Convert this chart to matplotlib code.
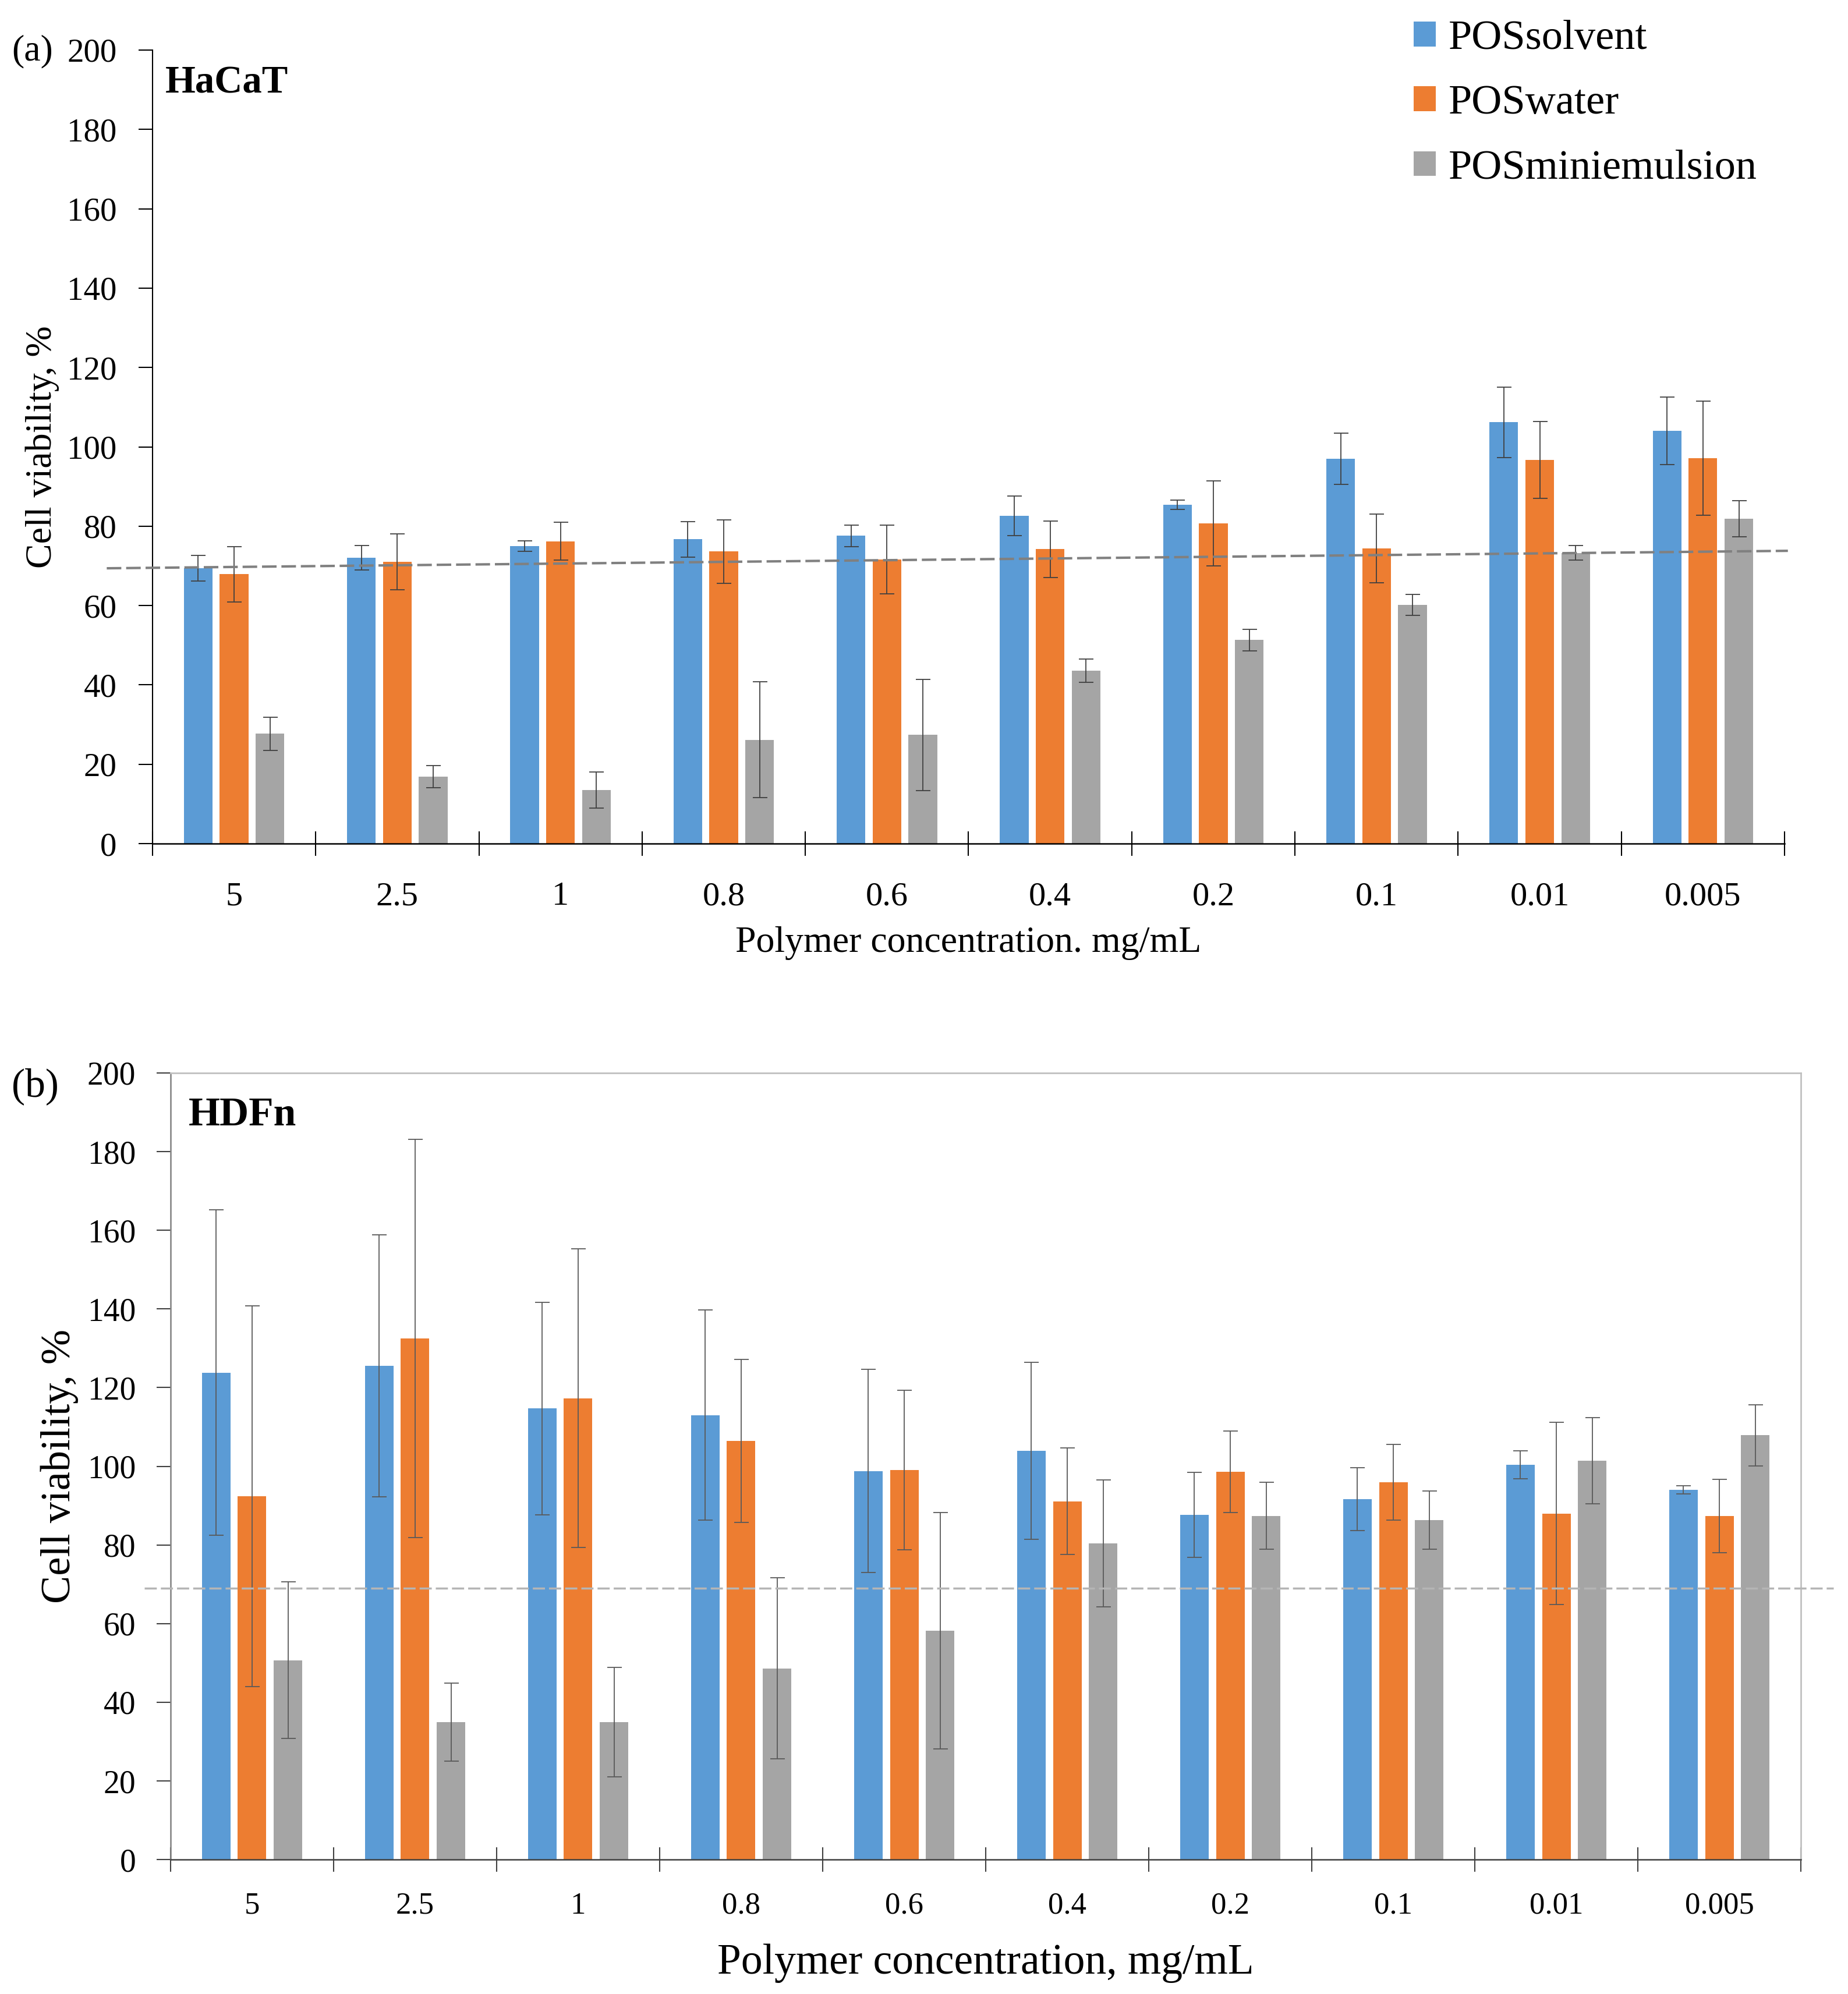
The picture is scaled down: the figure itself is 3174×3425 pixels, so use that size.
import matplotlib
matplotlib.use('Agg')
import matplotlib.pyplot as plt
from matplotlib.patches import Patch
import numpy as np

plt.rcParams['font.family'] = ['Liberation Serif', 'DejaVu Serif']

concentrations = ['5', '2.5', '1', '0.8', '0.6', '0.4', '0.2', '0.1', '0.01', '0.005']
series_names = ['POSsolvent', 'POSwater', 'POSminiemulsion']
colors = ['#5B9BD5', '#ED7D31', '#A5A5A5']

# (a) HaCaT
hacat_solvent = [69.4, 72.1, 75.0, 76.7, 77.6, 82.6, 85.4, 97.0, 106.2, 104.1]
hacat_solvent_err = [3.2, 3.1, 1.3, 4.5, 2.7, 5.0, 1.2, 6.5, 8.9, 8.5]
hacat_water = [67.9, 71.0, 76.2, 73.6, 71.6, 74.2, 80.7, 74.4, 96.7, 97.1]
hacat_water_err = [7.0, 7.0, 4.8, 8.0, 8.7, 7.1, 10.7, 8.7, 9.7, 14.4]
hacat_mini = [27.7, 16.9, 13.5, 26.2, 27.4, 43.6, 51.3, 60.2, 73.3, 81.9]
hacat_mini_err = [4.2, 2.8, 4.5, 14.6, 14.0, 2.9, 2.7, 2.6, 1.8, 4.5]
hacat_line = [69.4, 73.8]

# (b) HDFn
hdfn_solvent = [123.8, 125.5, 114.7, 113.0, 98.8, 103.9, 87.7, 91.7, 100.4, 94.0]
hdfn_solvent_err = [41.4, 33.3, 27.0, 26.7, 25.8, 22.5, 10.8, 8.0, 3.6, 1.0]
hdfn_water = [92.4, 132.5, 117.3, 106.4, 99.1, 91.1, 98.6, 95.9, 88.0, 87.4]
hdfn_water_err = [48.4, 50.6, 38.0, 20.7, 20.3, 13.5, 10.4, 9.6, 23.2, 9.3]
hdfn_mini = [50.7, 34.9, 34.9, 48.6, 58.2, 80.4, 87.4, 86.3, 101.4, 107.9]
hdfn_mini_err = [19.9, 9.9, 13.9, 23.0, 30.0, 16.2, 8.5, 7.4, 11.0, 7.8]
hdfn_line = 69.0

fig = plt.figure(figsize=(31.74, 34.25), dpi=100)
ax_a = fig.add_axes([0.0825, 0.5769, 0.8832, 0.398])
ax_b = fig.add_axes([0.0923, 0.0674, 0.8822, 0.3945])

x = np.arange(len(concentrations)) + 0.5
w = 0.175
off = 0.22


def draw_bars(ax, vals, errs, ecolor):
    for k in range(3):
        ax.bar(x + (k - 1) * off, vals[k], w, color=colors[k], yerr=errs[k],
               error_kw=dict(ecolor=ecolor, elinewidth=1.3, capsize=9, capthick=1.3),
               zorder=2)


def style_axis(ax, tick_fs, cat_fs, ypad, xpad):
    ax.set_xlim(0, 10)
    ax.set_ylim(0, 200)
    ax.set_yticks(np.arange(0, 201, 20))
    ax.set_xticks(np.arange(0, 11))
    ax.set_xticklabels([])
    ax.set_xticks(x, minor=True)
    ax.set_xticklabels(concentrations, minor=True, fontsize=cat_fs)
    ax.tick_params(axis='x', which='major', direction='inout', length=30, width=1.5)
    ax.tick_params(axis='x', which='minor', length=0, pad=xpad)
    ax.tick_params(axis='y', direction='out', length=17, width=1.5,
                   labelsize=tick_fs, pad=ypad)


draw_bars(ax_a, [hacat_solvent, hacat_water, hacat_mini],
          [hacat_solvent_err, hacat_water_err, hacat_mini_err], '#404040')
style_axis(ax_a, 41, 42, 27, 47)
ax_a.spines['top'].set_visible(False)
ax_a.spines['right'].set_visible(False)
ax_a.spines['left'].set_linewidth(1.5)
ax_a.spines['bottom'].set_linewidth(1.8)
ax_a.plot([-0.28, 10.02], hacat_line, color='#808080', lw=3, ls=(0, (6, 2)),
          clip_on=False, zorder=3)
ax_a.set_ylabel('Cell viability, %', fontsize=46)
ax_a.yaxis.set_label_coords(-0.057, 0.5)
ax_a.set_xlabel('Polymer concentration. mg/mL', fontsize=46, va='center')
ax_a.xaxis.set_label_coords(0.5, -0.125)
ax_a.text(0.008, 0.958, 'HaCaT', transform=ax_a.transAxes, fontsize=48,
          fontweight='bold', va='center', ha='left')

draw_bars(ax_b, [hdfn_solvent, hdfn_water, hdfn_mini],
          [hdfn_solvent_err, hdfn_water_err, hdfn_mini_err], '#595959')
style_axis(ax_b, 40, 38, 26, 40)
for s in ['top', 'right']:
    ax_b.spines[s].set_color('#c0c0c0')
    ax_b.spines[s].set_linewidth(2)
ax_b.spines['left'].set_color('#808080')
ax_b.spines['left'].set_linewidth(1.8)
ax_b.spines['bottom'].set_color('#404040')
ax_b.spines['bottom'].set_linewidth(1.8)
ax_b.tick_params(axis='both', color='#404040')
ax_b.axhline(hdfn_line, xmin=-0.016, xmax=1.02, color='#b5b5b5', lw=2.5,
             ls=(0, (6, 2)), clip_on=False, zorder=3)
ax_b.set_ylabel('Cell viability, %', fontsize=52)
ax_b.yaxis.set_label_coords(-0.0565, 0.5)
ax_b.set_xlabel('Polymer concentration, mg/mL', fontsize=53, va='center')
ax_b.xaxis.set_label_coords(0.5, -0.132)
ax_b.text(0.011, 0.946, 'HDFn', transform=ax_b.transAxes, fontsize=50,
          fontweight='bold', va='center', ha='left')

fig.text(20 / 3174, 1 - 88 / 3425, '(a)', fontsize=46, va='center', ha='left')
fig.text(20 / 3174, 1 - 1866 / 3425, '(b)', fontsize=50, va='center', ha='left')

handles = [Patch(facecolor=c, edgecolor='none') for c in colors]
fig.legend(handles, series_names, loc='upper left',
           bbox_to_anchor=(2428 / 3174, 1 - 34 / 3425), frameon=False,
           fontsize=52, handlelength=0.53, handleheight=0.53,
           handletextpad=0.3, labelspacing=0.64, borderpad=0, borderaxespad=0)

fig.savefig('out.png', dpi=100, facecolor='white')
